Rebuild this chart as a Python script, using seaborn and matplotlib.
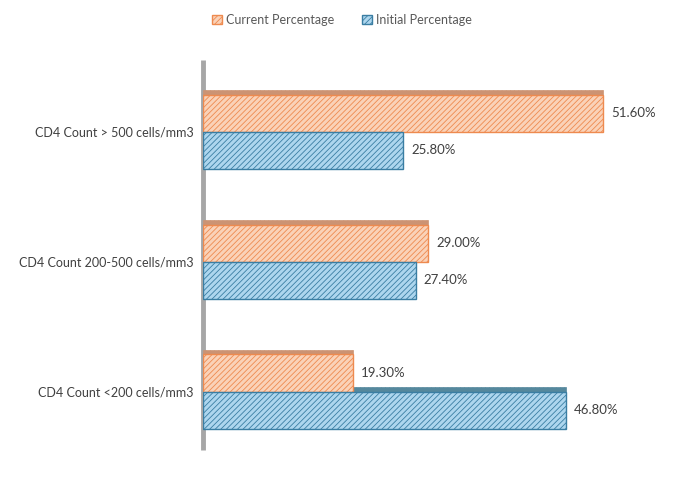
import matplotlib
matplotlib.use("Agg")
import matplotlib.pyplot as plt
import seaborn as sns
import pandas as pd
from matplotlib.patches import Rectangle, Patch

categories = ["CD4 Count > 500 cells/mm3", "CD4 Count 200-500 cells/mm3", "CD4 Count <200 cells/mm3"]
series = ["Current Percentage", "Initial Percentage"]
current = [51.6, 29.0, 19.3]
initial = [25.8, 27.4, 46.8]

df = pd.DataFrame({
    "cat": categories * 2,
    "series": [series[0]] * 3 + [series[1]] * 3,
    "value": current + initial,
})

sns.set_theme(style="white")
plt.rcParams["font.family"] = ["Lato", "DejaVu Sans"]
plt.rcParams["hatch.linewidth"] = 0.6

fills = {series[0]: "#FAD2B8", series[1]: "#ADD6EE"}
hatchc = {series[0]: "#F0A87C", series[1]: "#72B3D8"}
edges = {series[0]: "#EE8A4F", series[1]: "#3A7EA3"}
tops = {series[0]: "#CC9373", series[1]: "#55889D"}

fig = plt.figure(figsize=(6.84, 4.79), dpi=100)
ax = fig.add_axes([0.297, 0.0605, 0.68, 0.814])

sns.barplot(data=df, y="cat", x="value", hue="series", order=categories,
            hue_order=series, orient="h", width=0.57, palette=fills,
            legend=False, ax=ax, zorder=3)

ax.set_xlim(0, 60)
ax.set_ylim(2.45, -0.55)

for cont, s in zip(ax.containers, series):
    for p in cont:
        p.set_facecolor(fills[s])
        p.set_hatch("//////")
        try:
            p.set_hatchcolor(hatchc[s])
        except Exception:
            pass
        p.set_edgecolor(edges[s])
        p.set_linewidth(1.0)
        # 3D-like top face
        h = 0.035
        ax.add_patch(Rectangle((p.get_x(), p.get_y() - h), p.get_width(), h,
                               facecolor=tops[s], edgecolor=tops[s], hatch="||||",
                               linewidth=0.5, zorder=2))
    ax.bar_label(cont, labels=[f"{v:.2f}%" for v in cont.datavalues],
                 padding=6, fontsize=9.5, color="#404040")

ax.set_xlabel("")
ax.set_ylabel("")
ax.set_xticks([])
ax.tick_params(axis="y", length=0, pad=7, labelsize=9, labelcolor="#404040")
for sp in ["top", "right", "bottom", "left"]:
    ax.spines[sp].set_visible(False)
ax.plot([0.0, 0.0], [1.0, 0.0], transform=ax.transAxes, color="#A6A6A6",
        linewidth=3.5, solid_capstyle="butt", zorder=1, clip_on=False)

handles = []
for s in series:
    h = Patch(facecolor=fills[s], edgecolor=edges[s], hatch="//////", label=s)
    try:
        h.set_hatchcolor(hatchc[s])
    except Exception:
        pass
    handles.append(h)
fig.legend(handles=handles, loc="upper center", bbox_to_anchor=(0.5, 0.995),
           ncol=2, frameon=False, fontsize=9, labelcolor="#595959",
           handlelength=0.8, handleheight=0.8, handletextpad=0.3, columnspacing=2.2)

fig.savefig("out.png", dpi=100)
